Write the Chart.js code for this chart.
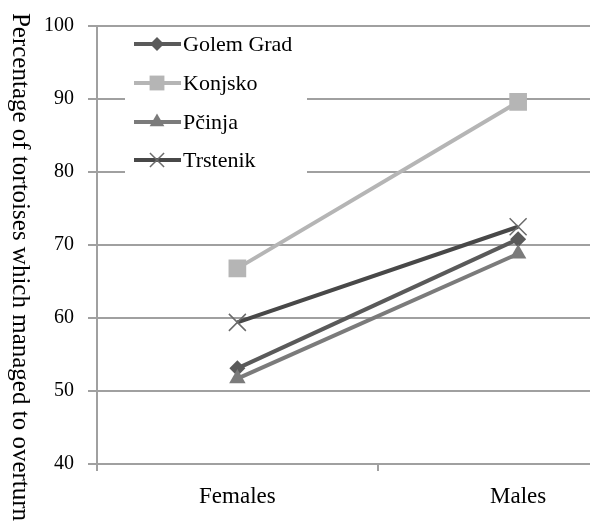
<!DOCTYPE html>
<html>
<head>
<meta charset="utf-8">
<script src="https://cdn.jsdelivr.net/npm/chart.js@4/dist/chart.umd.min.js"></script>
<style>
  html, body { margin: 0; padding: 0; background: #ffffff; }
  #wrap { width: 590px; height: 525px; overflow: hidden; position: relative; }
  #chart { display: block; }
</style>
</head>
<body>
<div id="wrap"><canvas id="chart" width="672" height="525" style="width:672px;height:525px"></canvas></div>
<script>
// Sex categories on the x axis
const categories = ['Females', 'Males'];

// Share of tortoises that managed to overturn, per population (%)
const golemGrad = [53.1, 70.8];
const konjsko   = [66.8, 89.6];
const pcinja    = [51.7, 68.8];
const trstenik  = [59.4, 72.5];

// Y axis range and step
const yTicks = { min: 40, max: 100, step: 10 };

const yTitle = 'Percentage of tortoises which managed to overturn';
const FONT = '"Liberation Serif", "Times New Roman", serif';
const GRID = '#a0a0a0';
const INK = '#000000';

const series = [
  { label: 'Golem Grad', data: golemGrad, color: '#5a5a5a', style: 'rectRot',  radius: 8,    legendRadius: 7 },
  { label: 'Konjsko',    data: konjsko,   color: '#b5b5b5', style: 'rect',     radius: 12.5, legendRadius: 10.5 },
  { label: 'Pčinja',     data: pcinja,    color: '#7b7b7b', style: 'triangle', radius: 9.5,  legendRadius: 8.5 },
  { label: 'Trstenik',   data: trstenik,  color: '#484848', style: 'crossRot', radius: 12,   legendRadius: 10, markerColor: '#6a6a6a' }
];

// Marker shapes for the in-plot legend
function drawMarker(ctx, style, x, y, r, color, stroke) {
  ctx.save();
  ctx.fillStyle = color;
  ctx.strokeStyle = stroke || color;
  ctx.beginPath();
  if (style === 'rect') {
    const s = Math.SQRT1_2 * r;
    ctx.rect(x - s, y - s, 2 * s, 2 * s);
    ctx.fill();
  } else if (style === 'rectRot') {
    ctx.moveTo(x, y - r); ctx.lineTo(x + r, y); ctx.lineTo(x, y + r); ctx.lineTo(x - r, y);
    ctx.closePath(); ctx.fill();
  } else if (style === 'triangle') {
    for (let i = 0; i < 3; i++) {
      const a = i * 2 * Math.PI / 3;
      const px = x + Math.sin(a) * r, py = y - Math.cos(a) * r;
      if (i === 0) ctx.moveTo(px, py); else ctx.lineTo(px, py);
    }
    ctx.closePath(); ctx.fill();
  } else if (style === 'crossRot') {
    const o = Math.SQRT1_2 * r;
    ctx.lineWidth = 1.5;
    ctx.moveTo(x - o, y - o); ctx.lineTo(x + o, y + o);
    ctx.moveTo(x + o, y - o); ctx.lineTo(x - o, y + o);
    ctx.stroke();
  }
  ctx.restore();
}

const insideLegend = {
  id: 'insideLegend',
  afterDatasetsDraw(chart) {
    const ctx = chart.ctx;
    ctx.save();
    ctx.fillStyle = '#ffffff';
    ctx.fillRect(125, 27, 182, 153);
    ctx.font = '22px ' + FONT;
    ctx.textBaseline = 'middle';
    ctx.textAlign = 'left';
    const rows = [44, 83, 122, 160];
    series.forEach((s, i) => {
      const y = rows[i];
      ctx.strokeStyle = s.color;
      ctx.lineWidth = 4;
      ctx.beginPath();
      ctx.moveTo(134, y); ctx.lineTo(181, y);
      ctx.stroke();
      drawMarker(ctx, s.style, 157, y, s.legendRadius, s.markerColor || s.color);
      ctx.fillStyle = INK;
      ctx.fillText(s.label, 183, y + 1);
    });
    ctx.restore();
  }
};

const sideTitle = {
  id: 'sideTitle',
  afterDraw(chart) {
    const ctx = chart.ctx;
    ctx.save();
    ctx.translate(20, 267);
    ctx.rotate(Math.PI / 2);
    ctx.font = '25px ' + FONT;
    ctx.fillStyle = INK;
    ctx.textAlign = 'center';
    ctx.textBaseline = 'middle';
    ctx.fillText(yTitle, 0, 0);
    ctx.restore();
  }
};

new Chart(document.getElementById('chart'), {
  type: 'line',
  data: {
    labels: categories,
    datasets: series.map(s => ({
      label: s.label,
      data: s.data,
      borderColor: s.color,
      backgroundColor: s.markerColor || s.color,
      pointBorderColor: s.markerColor || s.color,
      pointBackgroundColor: s.markerColor || s.color,
      borderWidth: 4,
      pointStyle: s.style,
      pointRadius: s.radius,
      pointHoverRadius: s.radius,
      pointBorderWidth: s.style === 'crossRot' ? 1.5 : 0,
      tension: 0,
      fill: false
    })).reverse()
  },
  options: {
    responsive: false,
    animation: false,
    devicePixelRatio: 1,
    layout: { padding: { top: 24, right: 3, bottom: 0, left: 0 } },
    plugins: {
      legend: { display: false },
      tooltip: { enabled: false }
    },
    scales: {
      x: {
        offset: true,
        grid: { offset: true, drawOnChartArea: false, drawTicks: true, tickLength: 7, color: GRID, lineWidth: 2 },
        border: { color: GRID, width: 2 },
        ticks: { font: { family: FONT, size: 23 }, color: INK, padding: 12 },
        afterFit(scale) { scale.height = 61; }
      },
      y: {
        min: yTicks.min,
        max: yTicks.max,
        grid: { color: GRID, lineWidth: 2, tickLength: 9 },
        border: { color: GRID, width: 2 },
        ticks: { stepSize: yTicks.step, font: { family: FONT, size: 20 }, color: INK, padding: 14 },
        afterFit(scale) { scale.width = 97; }
      }
    }
  },
  plugins: [insideLegend, sideTitle]
});
</script>
</body>
</html>
